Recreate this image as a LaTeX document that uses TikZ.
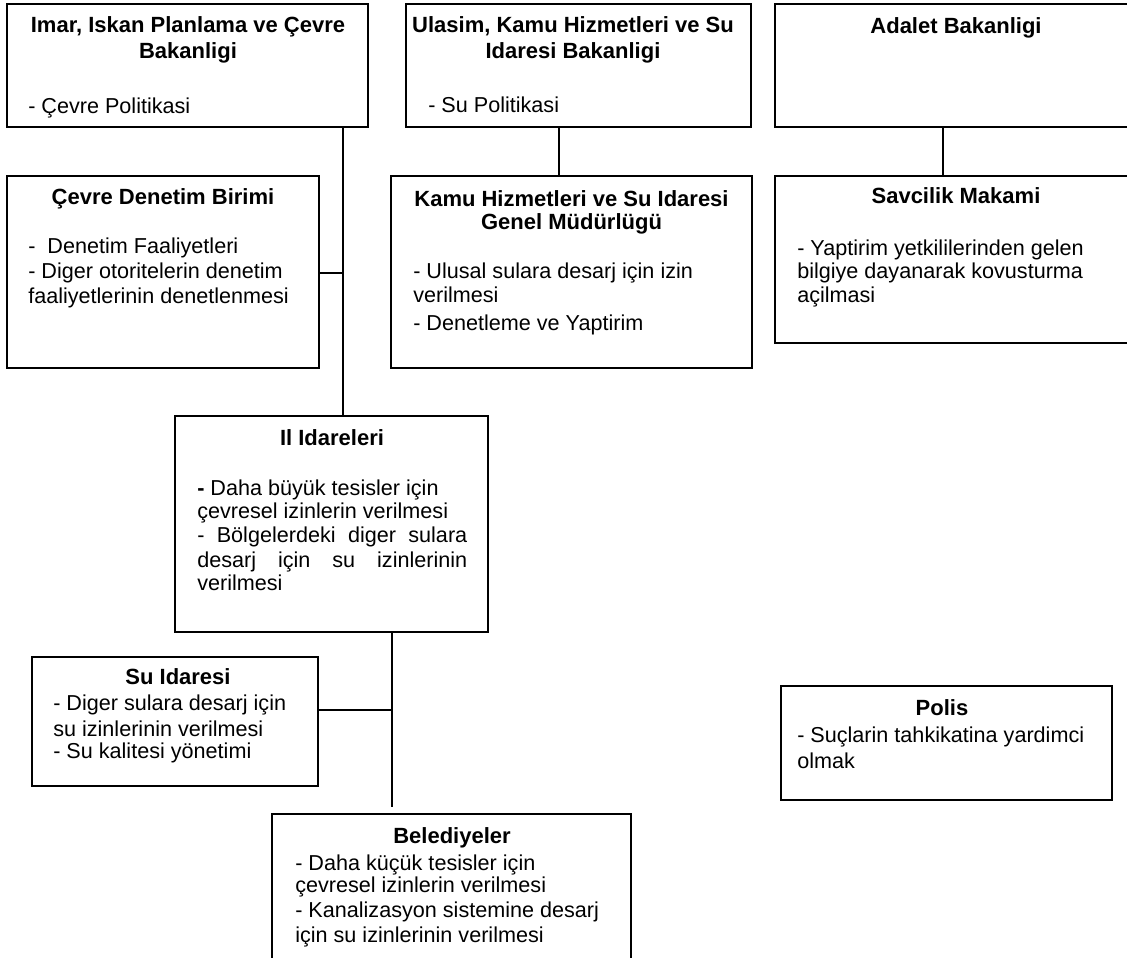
\documentclass[tikz,border=0pt]{standalone}
\usepackage{fontspec}
\setmainfont{Liberation Sans}
\usetikzlibrary{fit}
\tikzset{
  box/.style={draw=black, line width=1.2pt, inner sep=0pt, fill=none},
  ttl/.style={anchor=base, inner sep=0pt, font=\bfseries\fontsize{16.5}{19}\selectfont},
  txt/.style={anchor=base west, inner sep=0pt, font=\fontsize{16.2}{19}\selectfont},
  link/.style={draw=black, line width=1.2pt}
}
\begin{document}
\begin{tikzpicture}[x=0.75pt, y=-0.75pt]
\useasboundingbox (0,0) rectangle (1127,957);
\clip (0,0) rectangle (1127,957);
\fill[white] (0,0) rectangle (1127,957);
% boxes
\node[box, fit={(7,4) (368,127)}] (a) {};
\node[box, fit={(406,4) (751,127)}] (b) {};
\node[box, fit={(775,4) (1137,127)}] (c) {};
\node[box, fit={(7,176) (319,368)}] (d) {};
\node[box, fit={(391,176) (752,368)}] (e) {};
\node[box, fit={(775,176) (1137,343)}] (f) {};
\node[box, fit={(175,416) (488,632)}] (g) {};
\node[box, fit={(32,657) (318,786)}] (h) {};
\node[box, fit={(781,686) (1112,800)}] (i) {};
\node[box, fit={(272,814) (631,975)}] (j) {};
% junction coordinates
\coordinate (ja) at (343,273);
\coordinate (jb) at (559,150);
\coordinate (jc) at (943,150);
\coordinate (jg) at (392,710);
\coordinate (jend) at (392,807);
% connectors
\draw[link] (a.south -| ja) -- (g.north -| ja);
\draw[link] (d.east |- ja) -- (ja);
\draw[link] (b.south -| jb) -- (e.north -| jb);
\draw[link] (c.south -| jc) -- (f.north -| jc);
\draw[link] (g.south -| jg) -- (jend);
\draw[link] (h.east |- jg) -- (jg);
% texts A
\node[ttl] (a1) at (188,32) {Imar, Iskan Planlama ve Çevre};
\node[ttl] (a2) at (188,58) {Bakanligi};
\node[txt] (a3) at (28,113) {- Çevre Politikasi};
% B
\node[ttl] (b1) at (573,32) {Ulasim, Kamu Hizmetleri ve Su};
\node[ttl] (b2) at (573,58) {Idaresi Bakanligi};
\node[txt] (b3) at (428,112) {- Su Politikasi};
% C
\node[ttl] (c1) at (956,33) {Adalet Bakanligi};
% D
\node[ttl] (d1) at (163,204) {Çevre Denetim Birimi};
\node[txt] (d2) at (28,253) {-\ \ Denetim Faaliyetleri};
\node[txt] (d3) at (28,278) {- Diger otoritelerin denetim};
\node[txt] (d4) at (28,303) {faaliyetlerinin denetlenmesi};
% E
\node[ttl] (e1) at (571.5,206) {Kamu Hizmetleri ve Su Idaresi};
\node[ttl] (e2) at (571.5,229) {Genel Müdürlügü};
\node[txt] (e3) at (413,278) {- Ulusal sulara desarj için izin};
\node[txt] (e4) at (413,302) {verilmesi};
\node[txt] (e5) at (413,330) {- Denetleme ve Yaptirim};
% F
\node[ttl] (f1) at (956,203) {Savcilik Makami};
\node[txt] (f2) at (797,255) {- Yaptirim yetkililerinden gelen};
\node[txt] (f3) at (797,278) {bilgiye dayanarak kovusturma};
\node[txt] (f4) at (797,302) {açilmasi};
% G
\node[ttl] (g1) at (332,445) {Il Idareleri};
\node[txt] (g2) at (197,495) {\textbf{-} Daha büyük tesisler için};
\node[txt] (g3) at (197,518) {çevresel izinlerin verilmesi};
\node[txt] (g4) at (197,542) {\makebox[202.5pt][s]{- Bölgelerdeki diger sulara}};
\node[txt] (g5) at (197,567) {\makebox[202.5pt][s]{desarj için su izinlerinin}};
\node[txt] (g6) at (197,590) {verilmesi};
% H
\node[ttl] (h1) at (178,684) {Su Idaresi};
\node[txt] (h2) at (53,710) {- Diger sulara desarj için};
\node[txt] (h3) at (53,736) {su izinlerinin verilmesi};
\node[txt] (h4) at (53,758) {- Su kalitesi yönetimi};
% I
\node[ttl] (i1) at (942,715) {Polis};
\node[txt] (i2) at (797,742) {- Suçlarin tahkikatina yardimci};
\node[txt] (i3) at (797,768) {olmak};
% J
\node[ttl] (j1) at (452,843) {Belediyeler};
\node[txt] (j2) at (295,870) {- Daha küçük tesisler için};
\node[txt] (j3) at (295,892) {çevresel izinlerin verilmesi};
\node[txt] (j4) at (295,917) {- Kanalizasyon sistemine desarj};
\node[txt] (j5) at (295,942) {için su izinlerinin verilmesi};
\end{tikzpicture}
\end{document}
